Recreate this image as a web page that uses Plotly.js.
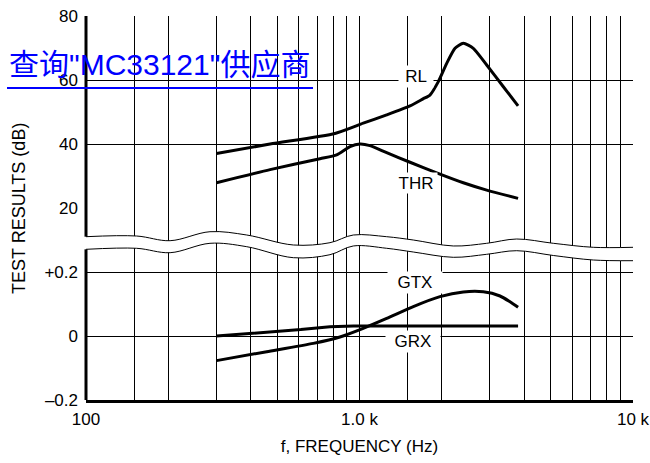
<!DOCTYPE html>
<html><head><meta charset="utf-8">
<script src="https://cdn.plot.ly/plotly-3.0.1.min.js"></script>
<style>html,body{margin:0;padding:0;background:#fff}#chart{width:650px;height:463px}</style>
</head><body><div id="chart"></div>
<script>
// ---- data ----
const freqRL = [300, 471, 813, 1032, 1257, 1530, 1707, 1810, 1942, 2084, 2235, 2396, 2607, 2918, 3357, 3800];
const rlDb   = [37.0, 40.0, 43.3, 46.5, 49.1, 51.9, 54.1, 55.3, 59.5, 65.2, 69.9, 71.5, 69.9, 64.7, 57.9, 51.9];

const freqTHR = [300, 471, 717, 825, 923, 1004, 1092, 1257, 1530, 1915, 2396, 2918, 3800];
const thrDb   = [27.9, 32.0, 35.4, 36.6, 39.2, 40.0, 39.5, 37.3, 34.3, 31.0, 27.9, 25.6, 23.0];

const freqGTX = [300, 458, 678, 848, 1032, 1257, 1573, 1969, 2396, 2836, 3264, 3550, 3800];
const gtxGain = [-0.077, -0.049, -0.023, -0.003, 0.024, 0.055, 0.092, 0.123, 0.1375, 0.138, 0.125, 0.107, 0.090];

const freqGRX = [300, 470, 610, 780, 950, 3800];
const grxGain = [0.0, 0.012, 0.020, 0.029, 0.031, 0.031];

// axis break (wavy band), in lower-axis units
const breakFreq   = [100, 153, 203, 284, 387, 573, 780, 949, 1257, 1573, 2203, 2918, 3757, 5113, 7159, 10000];
const breakTop    = [0.3103, 0.3125, 0.2978, 0.3259, 0.3156, 0.2844, 0.2916, 0.3156, 0.3103, 0.3000, 0.2813, 0.2897, 0.3031, 0.2897, 0.2772, 0.2772];
const breakBottom = [0.2709, 0.2741, 0.2603, 0.2897, 0.2791, 0.2447, 0.2541, 0.2813, 0.2741, 0.2625, 0.2459, 0.2553, 0.2666, 0.2516, 0.2375, 0.2353];

// ticks / grid
const gridFreqs = [100,150,200,300,400,500,600,700,800,900,1000,1500,2000,3000,4000,5000,6000,7000,8000,9000,10000];
const freqLabels = {100:'100', 1000:'1.0 k', 10000:'10 k'};
const dbTicks = [20, 40, 60, 80];
const dbTickText = ['20', '40', '60', '80'];
const gainTicks = [-0.2, 0, 0.2];
const gainTickText = ['\u20130.2', '0', '+0.2'];

// curve labels
const labelText = ['RL', 'THR', 'GTX', 'GRX'];
const labelFreq = [1609, 1609, 1596, 1570];
const labelVal  = [61, 27.8, 0.166, -0.016];
const labelAxis = ['y', 'y', 'y2', 'y2'];

const black = '#000';
const curve = {color: black, width: 3, shape: 'spline', smoothing: 0.6};

const traces = [
  {x: breakFreq, y: breakBottom, yaxis: 'y2', mode: 'lines', line: {color: black, width: 1, shape: 'spline'}, hoverinfo: 'skip'},
  {x: breakFreq, y: breakTop, yaxis: 'y2', mode: 'lines', fill: 'tonexty', fillcolor: '#fff', line: {color: black, width: 1, shape: 'spline'}, hoverinfo: 'skip'},
  {x: freqRL, y: rlDb, yaxis: 'y', mode: 'lines', line: curve, name: 'RL'},
  {x: freqTHR, y: thrDb, yaxis: 'y', mode: 'lines', line: curve, name: 'THR'},
  {x: freqGTX, y: gtxGain, yaxis: 'y2', mode: 'lines', line: curve, name: 'GTX'},
  {x: freqGRX, y: grxGain, yaxis: 'y2', mode: 'lines', line: {color: black, width: 3, shape: 'linear'}, name: 'GRX'}
];

const annotations = labelText.map((t, i) => ({
  text: t, x: Math.log10(labelFreq[i]), y: labelVal[i], xref: 'x', yref: labelAxis[i],
  showarrow: false, bgcolor: '#fff', borderpad: 0,
  width: t === 'RL' ? 34 : (t === 'THR' ? 42 : 54), height: t === 'THR' ? 20 : 21,
  font: {size: 17, color: black}
}));
annotations.push({
  text: 'TEST RESULTS (dB)', xref: 'paper', yref: 'paper', x: -0.1225, y: 0.5,
  xanchor: 'center', yanchor: 'middle',
  textangle: -90, showarrow: false, font: {size: 18, color: black}
});
annotations.push({
  text: '查询"MC33121"供应商', xref: 'paper', yref: 'paper', x: -0.1444, y: 0.874,
  xanchor: 'left', yanchor: 'middle', showarrow: false,
  font: {size: 30, color: '#0000ff', family: 'Liberation Sans, Arial, Noto Sans CJK SC, sans-serif'}
});

const shapes = [
  {type: 'line', xref: 'paper', x0: 0, x1: 0, yref: 'y2', y0: -0.2, y1: breakBottom[0], line: {color: black, width: 3}},
  {type: 'line', xref: 'paper', x0: 0, x1: 0, yref: 'y2', y0: breakTop[0], y1: 0.4, line: {color: black, width: 3}},
  {type: 'line', xref: 'paper', x0: 0, x1: 0, yref: 'y', y0: 20, y1: 80, line: {color: black, width: 3}},
  {type: 'line', xref: 'paper', x0: -0.1444, x1: 0.415, yref: 'paper', y0: 0.8125, y1: 0.8125, line: {color: '#0000ff', width: 2}}
];

const layout = {
  width: 650, height: 463,
  margin: {l: 86, r: 17, t: 16, b: 63},
  paper_bgcolor: '#fff', plot_bgcolor: '#fff',
  showlegend: false,
  font: {family: 'Liberation Sans, Arial, sans-serif', size: 17, color: black},
  xaxis: {
    type: 'log', range: [2, 4], anchor: 'y2',
    tickmode: 'array', tickvals: gridFreqs, ticktext: gridFreqs.map(f => freqLabels[f] || ''),
    showgrid: true, gridcolor: black, gridwidth: 1,
    showline: true, linecolor: black, linewidth: 3, ticks: '', zeroline: false,
    tickangle: 0, ticklabelstandoff: 2,
    title: {text: 'f, FREQUENCY (Hz)', font: {size: 17, color: black}, standoff: 12}
  },
  yaxis: {
    domain: [0.5, 1], range: [20, 80], anchor: 'x',
    tickmode: 'array', tickvals: dbTicks, ticktext: dbTickText,
    showgrid: true, gridcolor: black, gridwidth: 1,
    showline: false, zeroline: false, ticks: '', ticklabelstandoff: 7
  },
  yaxis2: {
    domain: [0, 0.5], range: [-0.2, 0.4], anchor: 'x',
    tickmode: 'array', tickvals: gainTicks, ticktext: gainTickText,
    showgrid: true, gridcolor: black, gridwidth: 1,
    showline: false, zeroline: false, ticks: '', ticklabelstandoff: 7
  },
  annotations: annotations,
  shapes: shapes
};

Plotly.newPlot('chart', traces, layout, {displayModeBar: false, staticPlot: true});
</script>
</body></html>
